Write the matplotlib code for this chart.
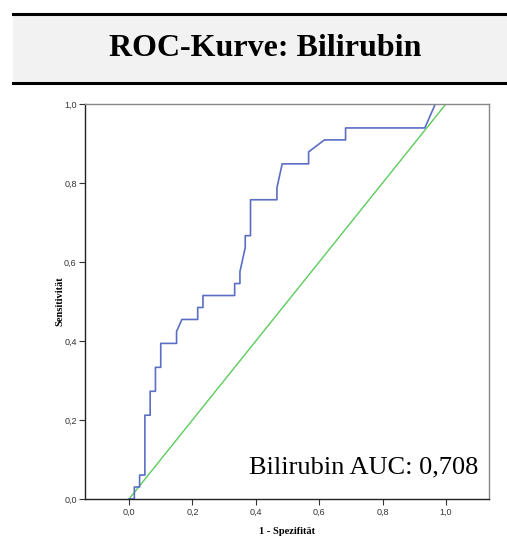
import matplotlib.pyplot as plt
from matplotlib.patches import Rectangle
from matplotlib.lines import Line2D
from matplotlib.ticker import FuncFormatter

# ROC-Kurve Bilirubin (1 - Spezifität vs. Sensitivität)
fpr = [0.0, 1/60, 1/60, 2/60, 2/60, 3/60, 3/60, 4/60, 4/60, 5/60, 5/60, 6/60, 6/60,
       9/60, 9/60, 10/60, 13/60, 13/60, 14/60, 14/60, 20/60, 20/60, 21/60, 21/60,
       22/60, 22/60, 23/60, 23/60, 28/60, 28/60, 29/60, 34/60, 34/60, 37/60,
       41/60, 41/60, 56/60, 58/60, 1.0]
tpr = [0.0, 0.0, 1/33, 1/33, 2/33, 2/33, 7/33, 7/33, 9/33, 9/33, 11/33, 11/33, 13/33,
       13/33, 14/33, 15/33, 15/33, 16/33, 16/33, 17/33, 17/33, 18/33, 18/33, 19/33,
       21/33, 22/33, 22/33, 25/33, 25/33, 26/33, 28/33, 28/33, 29/33, 30/33,
       30/33, 31/33, 31/33, 1.0, 1.0]
ref_line = [0.0, 1.0]
auc = 0.708
ticks = [0.0, 0.2, 0.4, 0.6, 0.8, 1.0]

fig = plt.figure(figsize=(5.07, 5.37), dpi=100)

# title band
fig.patches.append(Rectangle((13/507, 1 - 83/537), 1 - 13/507, 69/537,
                             transform=fig.transFigure, facecolor='#f2f2f2',
                             edgecolor='none', zorder=0))
for yy in (1 - 14/537, 1 - 83/537):
    fig.add_artist(Line2D([13/507, 1], [yy, yy], transform=fig.transFigure,
                          color='black', linewidth=2.2))
fig.text(265/507, 1 - 49/537, 'ROC-Kurve: Bilirubin', ha='center', va='center',
         family='Liberation Serif', weight='bold', fontsize=23)

ax = fig.add_axes([85/507, 1 - 499/537, 404/507, 395/537])
ax.plot(ref_line, ref_line, color='#5ccc5c', linewidth=1.0)
ax.plot(fpr, tpr, color='#5a6ec4', linewidth=1.2)

ax.set_xlim(-0.139, 1.136)
ax.set_ylim(0, 1)
ax.set_xticks(ticks)
ax.set_yticks(ticks)
fmt = FuncFormatter(lambda v, p: f'{v:.1f}'.replace('.', ','))
ax.xaxis.set_major_formatter(fmt)
ax.yaxis.set_major_formatter(fmt)
ax.tick_params(direction='out', length=4, width=0.8, pad=2, labelsize=6.5,
               colors='#333333')
for lab in ax.get_xticklabels() + ax.get_yticklabels():
    lab.set_family(['Liberation Sans Narrow', 'Liberation Sans'])

ax.spines['left'].set_color('#222222')
ax.spines['bottom'].set_color('#222222')
ax.spines['top'].set_color('#888888')
ax.spines['right'].set_color('#888888')
for s in ax.spines.values():
    s.set_linewidth(1.0)

ax.set_ylabel('Sensitivität', family='Liberation Serif', weight='bold',
              fontsize=7.5, labelpad=0)
ax.set_xlabel('1 - Spezifität', family='Liberation Serif', weight='bold',
              fontsize=7.5, labelpad=8)

ax.text(478/507, 1 - 473/537, f'Bilirubin AUC: {auc:.3f}'.replace('.', ','),
        transform=fig.transFigure, ha='right', va='baseline',
        family='Liberation Serif', fontsize=19)

fig.savefig('out.png', dpi=100)
